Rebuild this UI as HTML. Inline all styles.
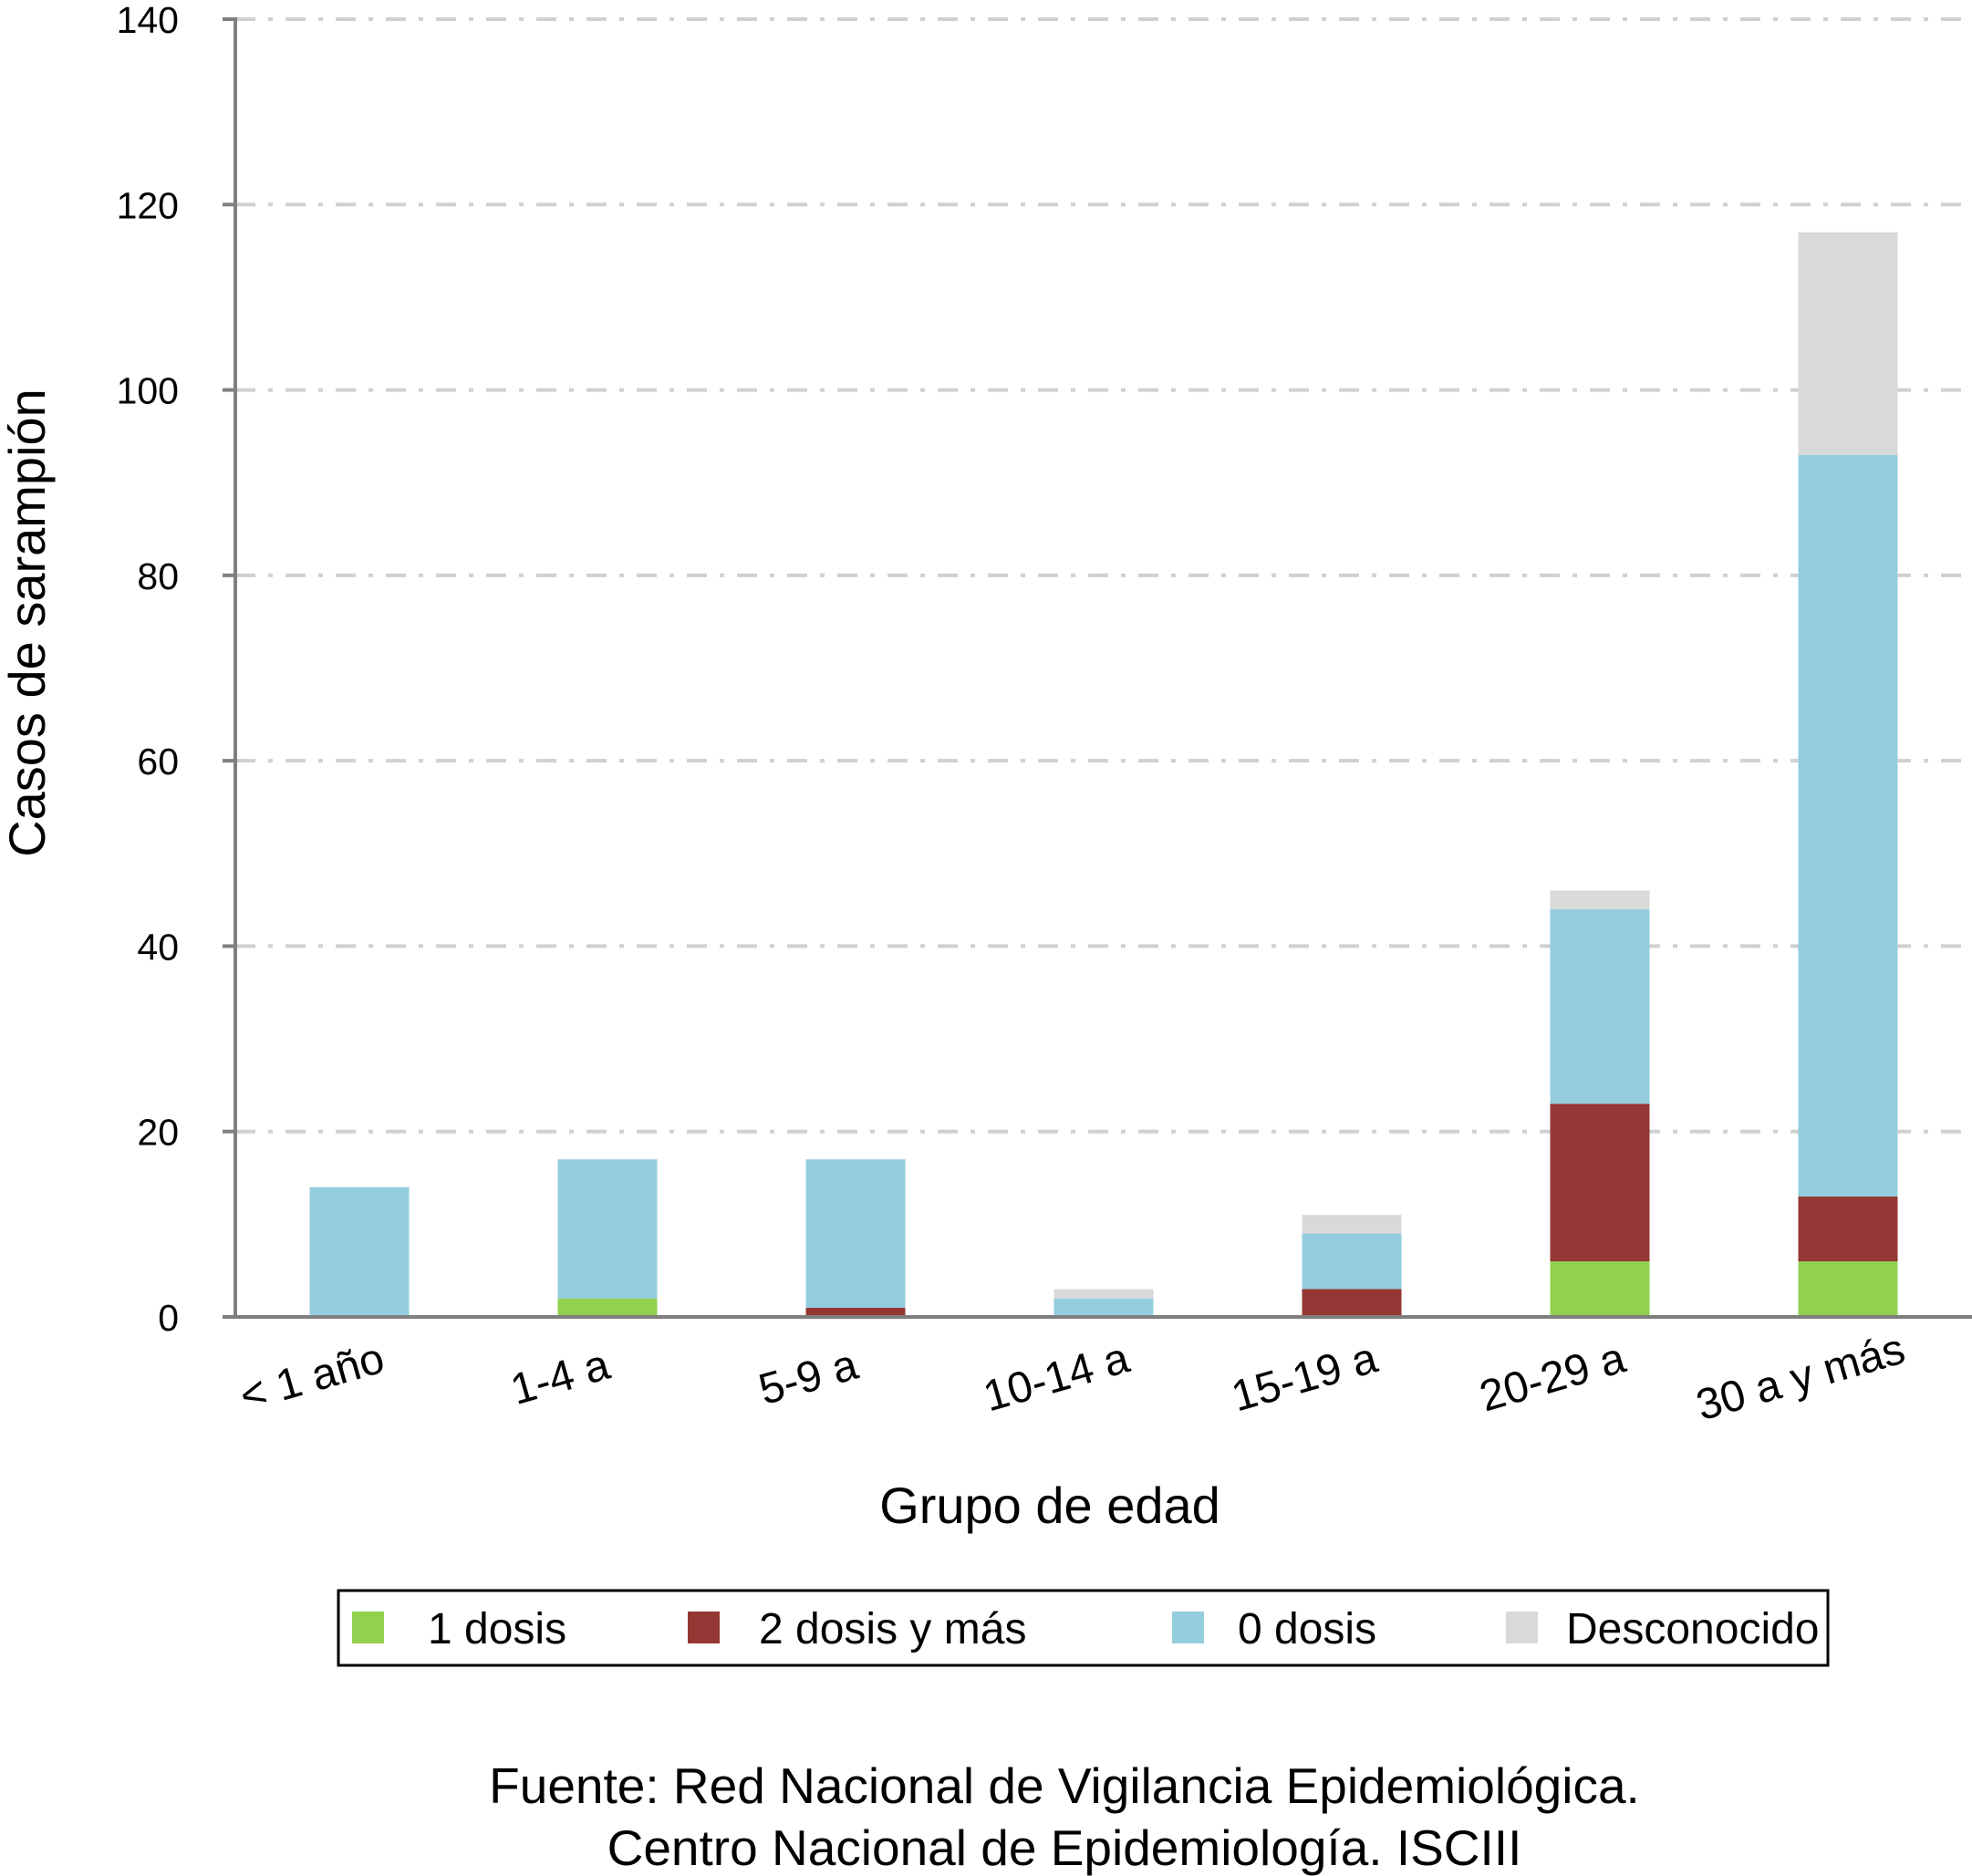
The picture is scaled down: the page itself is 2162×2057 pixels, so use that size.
<!DOCTYPE html>
<html><head><meta charset="utf-8"><style>
html,body{margin:0;padding:0;background:#fff}
svg{display:block;font-family:"Liberation Sans",Arial,sans-serif}
</style></head><body>
<svg id="chart" width="2162" height="2057" viewBox="0 0 2162 2057">
<g id="grid"></g><g id="bars"></g><g id="axes"></g><g id="labels"></g>
<text x="30" y="683" font-size="56" text-anchor="middle" transform="rotate(-90 30 683)" dy="19">Casos de sarampión</text>
<text x="1151" y="1670" font-size="56" text-anchor="middle">Grupo de edad</text>
<g>
<rect x="371" y="1744" width="1633" height="82" fill="none" stroke="#000" stroke-width="3"/>
<rect x="386" y="1767" width="35" height="35" fill="#92d050"/>
<text x="469" y="1802" font-size="48">1 dosis</text>
<rect x="754" y="1767" width="35" height="35" fill="#953735"/>
<text x="832" y="1802" font-size="48">2 dosis y más</text>
<rect x="1285" y="1767" width="35" height="35" fill="#93cddd"/>
<text x="1357" y="1802" font-size="48">0 dosis</text>
<rect x="1651" y="1767" width="35" height="35" fill="#d9d9d9"/>
<text x="1717" y="1802" font-size="48">Desconocido</text>
</g>
<text x="1167" y="1977" font-size="55" text-anchor="middle">Fuente: Red Nacional de Vigilancia Epidemiológica.</text>
<text x="1167" y="2045" font-size="55" text-anchor="middle">Centro Nacional de Epidemiología. ISCIII</text>
</svg>
<script>
const categories=["< 1 año","1-4 a","5-9 a","10-14 a","15-19 a","20-29 a","30 a y más"];
const dosis1=[0,2,0,0,0,6,6];
const dosis2=[0,0,1,0,3,17,7];
const dosis0=[14,15,16,2,6,21,80];
const desconocido=[0,0,0,1,2,2,24];
const yTicks=[0,20,40,60,80,100,120,140];
const NS="http://www.w3.org/2000/svg";
const X0=258,X1=2162,Y0=1444,Y1=21,YMAX=140;
const step=(X1-X0)/categories.length, bw=109;
const y=v=>Y0-(v/YMAX)*(Y0-Y1);
const xc=i=>X0+step*(i+0.5);
function mk(tag,attrs,parent){const e=document.createElementNS(NS,tag);for(const k in attrs)e.setAttribute(k,attrs[k]);parent.appendChild(e);return e;}
const grid=document.getElementById('grid'),bars=document.getElementById('bars'),axes=document.getElementById('axes'),labels=document.getElementById('labels');
yTicks.forEach(t=>{
 if(t>0){const l=mk('line',{x1:X0,x2:X1,y1:y(t),y2:y(t),stroke:'#d0d0d0','stroke-width':4,'stroke-dasharray':'22 14 5 14'},grid);
 
 }
 const tk=mk('line',{x1:X0-14,x2:X0,y1:y(t),y2:y(t),stroke:'#7f7f7f','stroke-width':4},axes);
 
 
 const tx=mk('text',{x:X0-62,y:y(t)+15,'font-size':41,'text-anchor':'end'},labels);
 tx.textContent=t;
 
 
});
const series=[[dosis1,'#92d050','1-dosis'],[dosis2,'#953735','2-dosis'],[dosis0,'#93cddd','0-dosis'],[desconocido,'#d9d9d9','desconocido']];
categories.forEach((c,i)=>{
 let base=0;
 series.forEach(([arr,col,nm])=>{
  const v=arr[i]; if(v>0){
  const r=mk('rect',{x:xc(i)-bw/2,y:y(base+v),width:bw,height:y(base)-y(base+v),fill:col},bars);
  
  }
  base+=v;
 });
 const lx=xc(i)-52, ly=1526;
 const tx=mk('text',{x:lx,y:ly,'font-size':48,'text-anchor':'middle',transform:`rotate(-16 ${lx} ${ly-16})`},labels);
 tx.textContent=c;
 
 
});
const ya=mk('line',{x1:X0,x2:X0,y1:Y1-2,y2:Y0+2,stroke:'#7f7f7f','stroke-width':4},axes);


const xa=mk('line',{x1:X0-14,x2:X1,y1:Y0,y2:Y0,stroke:'#7f7f7f','stroke-width':4},axes);


</script>
</body></html>
